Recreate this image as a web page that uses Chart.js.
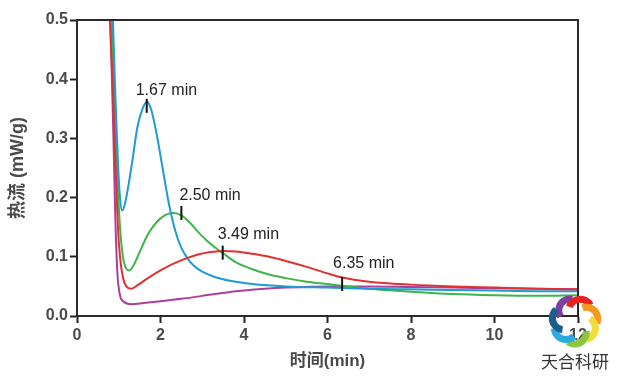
<!DOCTYPE html>
<html>
<head>
<meta charset="utf-8">
<script src="https://cdn.jsdelivr.net/npm/chart.js@4"></script>
<style>
  html, body { margin: 0; padding: 0; background: #fff; }
  #wrap { width: 618px; height: 382px; }
</style>
</head>
<body>
<div id="wrap"><canvas id="myChart" width="618" height="382"></canvas></div>
<script>
// Heat flow curves (x in min, y in mW/g)
const blueX = [0.84, 0.86, 0.92, 0.98, 1.03, 1.08, 1.15, 1.3, 1.45, 1.58, 1.68, 1.78, 1.9, 2.05, 2.2, 2.35, 2.5, 2.65, 2.8, 3.0, 3.3, 3.7, 4.2, 5.0, 6.0, 7.0, 8.0, 9.0, 10, 11, 12];
const blueY = [0.56, 0.5, 0.37, 0.26, 0.2, 0.178, 0.19, 0.25, 0.32, 0.352, 0.362, 0.348, 0.31, 0.25, 0.19, 0.145, 0.115, 0.097, 0.085, 0.075, 0.066, 0.059, 0.054, 0.05, 0.048, 0.046, 0.045, 0.044, 0.043, 0.042, 0.042];

const greenX = [0.81, 0.83, 0.9, 0.97, 1.03, 1.1, 1.18, 1.25, 1.35, 1.5, 1.7, 1.9, 2.1, 2.3, 2.5, 2.7, 2.9, 3.1, 3.3, 3.5, 3.8, 4.2, 4.6, 5.0, 5.5, 6.0, 6.5, 7.0, 8.0, 9.0, 10, 11, 12];
const greenY = [0.56, 0.5, 0.36, 0.23, 0.15, 0.1, 0.08, 0.077, 0.085, 0.108, 0.138, 0.158, 0.17, 0.174, 0.17, 0.158, 0.142, 0.128, 0.116, 0.106, 0.091, 0.079, 0.07, 0.064, 0.058, 0.054, 0.05, 0.046, 0.041, 0.037, 0.035, 0.034, 0.035];

const redX = [0.77, 0.79, 0.85, 0.92, 0.98, 1.03, 1.1, 1.18, 1.3, 1.45, 1.7, 2.0, 2.3, 2.6, 2.9, 3.2, 3.5, 3.8, 4.2, 4.6, 5.0, 5.5, 6.0, 6.35, 7.0, 8.0, 9.0, 10, 11, 12];
const redY = [0.56, 0.5, 0.4, 0.26, 0.15, 0.1, 0.065, 0.05, 0.046, 0.052, 0.064, 0.077, 0.088, 0.097, 0.104, 0.108, 0.11, 0.109, 0.105, 0.1, 0.093, 0.083, 0.072, 0.065, 0.058, 0.053, 0.05, 0.048, 0.046, 0.045];

const purpleX = [0.78, 0.8, 0.87, 0.92, 0.97, 1.03, 1.12, 1.3, 1.6, 2.0, 2.5, 3.0, 3.5, 4.0, 4.5, 5.0, 6.0, 7.0, 8.0, 9.0, 10, 11, 12];
const purpleY = [0.56, 0.5, 0.31, 0.16, 0.07, 0.035, 0.024, 0.02, 0.022, 0.025, 0.029, 0.034, 0.039, 0.043, 0.046, 0.048, 0.05, 0.05, 0.049, 0.048, 0.047, 0.046, 0.045];

// Peak markers
const markerX = [1.67, 2.50, 3.49, 6.35];
const markerY = [0.355, 0.174, 0.107, 0.054];
const markerText = ['1.67 min', '2.50 min', '3.49 min', '6.35 min'];

const xTicks = [0, 2, 4, 6, 8, 10, 12];
const yTicks = [0.0, 0.1, 0.2, 0.3, 0.4, 0.5];

const toPts = (xs, ys) => xs.map((x, i) => ({ x: x, y: ys[i] }));

// label offsets from marker (px)
const labelDx = [-11, -2, -5, -9];
const labelDy = [-15, -17, -18, -20];

const extras = {
  id: 'extras',
  afterDraw(chart) {
    const { ctx, chartArea: a, scales } = chart;
    ctx.save();
    // top + right frame
    ctx.strokeStyle = '#2a2a2a';
    ctx.lineWidth = 2;
    ctx.beginPath();
    ctx.moveTo(a.left, a.top);
    ctx.lineTo(a.right, a.top);
    ctx.lineTo(a.right, a.bottom);
    ctx.stroke();

    // marker labels
    ctx.fillStyle = '#222';
    ctx.font = '16px "Liberation Sans", Arial, sans-serif';
    ctx.textAlign = 'left';
    ctx.textBaseline = 'middle';
    markerText.forEach((t, i) => {
      const px = scales.x.getPixelForValue(markerX[i]);
      const py = scales.y.getPixelForValue(markerY[i]);
      ctx.fillText(t, px + labelDx[i], py + labelDy[i]);
    });

    // watermark pinwheel
    const cx = 575, cy = 321;
    const cols = ['#7b3fa0', '#e8231f', '#f29a1f', '#f0dc3a', '#8cc63f', '#29abe2', '#1b5e8c'];
    cols.forEach((c, i) => {
      const ang = -2.0 + i * 2 * Math.PI / 7;
      const ox = cx + Math.cos(ang) * 11.5;
      const oy = cy + Math.sin(ang) * 11.5;
      ctx.strokeStyle = c;
      ctx.lineWidth = 7;
      ctx.beginPath();
      ctx.arc(ox, oy, 11.5, ang - 1.7, ang + 0.6);
      ctx.stroke();
    });
    ctx.fillStyle = '#333';
    ctx.font = '17px "Noto Sans CJK SC", sans-serif';
    ctx.textAlign = 'center';
    ctx.fillText('天合科研', 575, 362);
    ctx.restore();
  }
};

const ctx = document.getElementById('myChart');
const line = (data, color) => ({
  data: data,
  borderColor: color,
  borderWidth: 2,
  pointRadius: 0,
  fill: false,
  cubicInterpolationMode: 'monotone'
});

const tickFont = { size: 16, weight: 'bold', family: '"Liberation Sans", Arial' };

new Chart(ctx, {
  type: 'line',
  data: {
    datasets: [
      {
        data: toPts(markerX, markerY),
        showLine: false,
        pointStyle: 'line',
        rotation: 90,
        pointRadius: 7,
        pointBorderWidth: 2,
        pointBorderColor: '#111',
        pointBackgroundColor: '#111'
      },
      line(toPts(redX, redY), '#e0312f'),
      line(toPts(blueX, blueY), '#1e9ad6'),
      line(toPts(greenX, greenY), '#3db54a'),
      line(toPts(purpleX, purpleY), '#a9419c')
    ]
  },
  options: {
    responsive: false,
    animation: false,
    events: [],
    layout: { padding: { top: 20, right: 40, left: 0, bottom: 0 } },
    plugins: { legend: { display: false }, tooltip: { enabled: false } },
    scales: {
      x: {
        type: 'linear',
        min: 0, max: 12,
        afterBuildTicks: s => { s.ticks = xTicks.map(v => ({ value: v })); },
        afterFit: s => { s.height = 66; },
        grid: { drawOnChartArea: false, drawTicks: true, tickLength: 7, tickWidth: 2, tickColor: '#222' },
        border: { display: true, color: '#2a2a2a', width: 2 },
        ticks: { color: '#4a4a4a', padding: 3, font: tickFont, maxRotation: 0 },
        title: { display: true, text: '时间(min)', color: '#4a4a4a', padding: { top: 0, bottom: 10 }, font: { size: 17, weight: 'bold', family: '"Liberation Sans", "Noto Sans CJK SC"' } }
      },
      y: {
        min: 0, max: 0.5,
        afterBuildTicks: s => { s.ticks = yTicks.map(v => ({ value: v })); },
        afterFit: s => { s.width = 77; },
        grid: { drawOnChartArea: false, drawTicks: true, tickLength: 7, tickWidth: 2, tickColor: '#222' },
        border: { display: true, color: '#2a2a2a', width: 2 },
        ticks: { color: '#4a4a4a', padding: 2, font: tickFont, callback: v => v.toFixed(1) },
        title: { display: true, text: '热流 (mW/g)', color: '#4a4a4a', padding: { top: 7, bottom: 0 }, font: { size: 18, weight: 'bold', family: '"Liberation Sans", "Noto Sans CJK SC"' } }
      }
    }
  },
  plugins: [extras]
});
</script>
</body>
</html>
